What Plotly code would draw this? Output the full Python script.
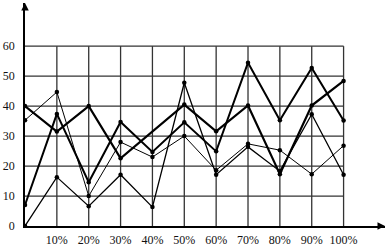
import plotly.graph_objects as go

x_pct = [0, 10, 20, 30, 40, 50, 60, 70, 80, 90, 100]
x_s1 = [0, 10, 20, 30, 50, 60, 70, 80, 90, 100]
s1 = [40, 31.5, 40, 22.6, 40.5, 31.6, 40.2, 17.3, 40.2, 48.4]
s2 = [7, 37.4, 14.6, 34.7, 24.7, 34.6, 24.9, 54.5, 35.3, 52.7, 35.2]
s3 = [35.3, 44.7, 10, 28, 23, 30, 18.6, 27.4, 25.3, 17.3, 26.8]
s4 = [0, 16.3, 6.6, 17.1, 6.3, 47.8, 17.1, 26.4, 18.3, 37.3, 17.1]

x_ticks = [10, 20, 30, 40, 50, 60, 70, 80, 90, 100]
x_labels = ["10%", "20%", "30%", "40%", "50%", "60%", "70%", "80%", "90%", "100%"]
y_ticks = [0, 10, 20, 30, 40, 50, 60]
y_labels = ["0", "10", "20", "30", "40", "50", "60"]

fig = go.Figure()
series = [(x_s1, s1, 2.2), (x_pct, s2, 2.0), (x_pct, s3, 1.0), (x_pct, s4, 1.3)]
for xs, ys, w in series:
    fig.add_trace(go.Scatter(x=xs, y=ys, mode="lines+markers",
                             line=dict(color="black", width=w),
                             marker=dict(color="black", size=4.5),
                             showlegend=False, hoverinfo="skip"))

grid_col = "#333"
shapes = []
for yv in y_ticks[1:]:
    shapes.append(dict(type="line", xref="x", yref="y", x0=0, x1=100, y0=yv, y1=yv,
                       line=dict(color=grid_col, width=1.3), layer="below"))
for xv in x_ticks:
    shapes.append(dict(type="line", xref="x", yref="y", x0=xv, x1=xv, y0=0, y1=60,
                       line=dict(color=grid_col, width=1.3), layer="below"))

annotations = [
    dict(x=113, y=0, xref="x", yref="y", ax=-8, ay=0, axref="pixel", ayref="pixel",
         text="", showarrow=True, arrowhead=2, arrowsize=1, arrowwidth=1.5, arrowcolor="black"),
    dict(x=0, y=74.4, xref="x", yref="y", ax=0, ay=8, axref="pixel", ayref="pixel",
         text="", showarrow=True, arrowhead=2, arrowsize=1, arrowwidth=1.5, arrowcolor="black"),
]

font = dict(family="Liberation Serif, Times New Roman, serif", size=12, color="#111")
fig.update_layout(
    width=388, height=250,
    margin=dict(l=22, r=3, t=3, b=15),
    paper_bgcolor="white", plot_bgcolor="white",
    shapes=shapes, annotations=annotations,
    xaxis=dict(range=[0, 113], tickvals=x_ticks, ticktext=x_labels, showgrid=False,
               zeroline=False, showline=True, linecolor="black", linewidth=1.5,
               ticks="", tickfont=font, ticklabelstandoff=2),
    yaxis=dict(range=[0, 74.4], tickvals=y_ticks, ticktext=y_labels, showgrid=False,
               zeroline=False, showline=True, linecolor="black", linewidth=1.5,
               ticks="", tickfont=font, ticklabelstandoff=6),
)
fig.write_html("out.html")
